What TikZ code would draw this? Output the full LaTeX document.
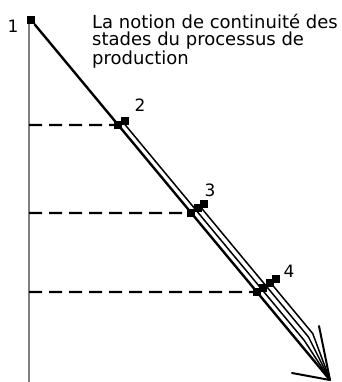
\documentclass[tikz,border=0pt]{standalone}
\usepackage{fontspec}
\setsansfont{DejaVu Sans}
\usetikzlibrary{calc}

\begin{document}
\begin{tikzpicture}[
    x=1pt, y=-1pt,
    font=\sffamily,
    axis/.style={draw=black!50, line width=1.2pt},
    mainline/.style={draw=black, line width=2.4pt},
    stageline/.style={draw=black, line width=1.5pt, line join=round},
    level/.style={draw=black, line width=2.4pt, dash pattern=on 13pt off 7pt},
    stagebox/.style={fill=black, inner sep=0pt, minimum size=8pt},
    barb/.style={draw=black, line width=2pt, line cap=round},
    num/.style={font=\sffamily\fontsize{17}{17}\selectfont, inner sep=0pt},
    title/.style={font=\sffamily\fontsize{18}{17}\selectfont, align=left, inner sep=0pt}
]
\useasboundingbox (0,0) rectangle (341,382);

% Vertical axis
\coordinate (axtop) at (29,20);
\coordinate (axbot) at (29,382);
\draw[axis] (axtop) -- (axbot);

% Start of the process and tip of the arrow
\node[stagebox] (s1) at (31,20) {};
\coordinate (tip) at (330,380);
\node[num] (n1) at (13,26) {1};

% Title
\node[title, anchor=north west] (titletext) at (92,14)
    {La notion de continuité des\\stades du processus de\\production};

% Perpendicular offset between stage lines, step between boxes
\def\ox{4.2}
\def\oy{-3.5}
\def\bx{6.5}
\def\by{-4.5}

% Stage points on the main line
\coordinate (b2) at ($(s1)!0.2917!(tip)$);
\coordinate (b3) at ($(s1)!0.5361!(tip)$);
\coordinate (b4) at ($(s1)!0.7556!(tip)$);
\coordinate (conv) at ($(s1)!0.9!(tip)$);

% Main line
\draw[mainline] (s1) -- (tip);

% Extra lines, one more from each stage
\foreach \st/\k in {2/1, 3/2, 4/3} {
    \draw[stageline] ($(b\st)+(\k*\ox,\k*\oy)$) -- ($(conv)+(\k*\ox,\k*\oy)$) -- (tip);
}

% Dashed levels
\coordinate (y2) at (29,125);
\coordinate (y3) at (29,213);
\coordinate (y4) at (29,292);
\draw[level] (y2) -- (b2);
\draw[level] (y3) -- (b3);
\draw[level] (y4) -- (b4);

% Stage boxes
\foreach \st/\m in {2/1, 3/2, 4/3} {
    \foreach \k in {0,...,\m} {
        \node[stagebox] (s\st-\k) at ($(b\st)+(\k*\bx,\k*\by)$) {};
    }
}

% Stage numbers
\node[num] (n2) at (140,105) {2};
\node[num] (n3) at (210,190) {3};
\node[num] (n4) at (289,271) {4};

% Arrow head
\coordinate (barbA) at (319,326);
\coordinate (barbB) at (292,373);
\draw[barb] (barbA) -- (tip);
\draw[barb] (barbB) -- (tip);

\end{tikzpicture}
\end{document}
